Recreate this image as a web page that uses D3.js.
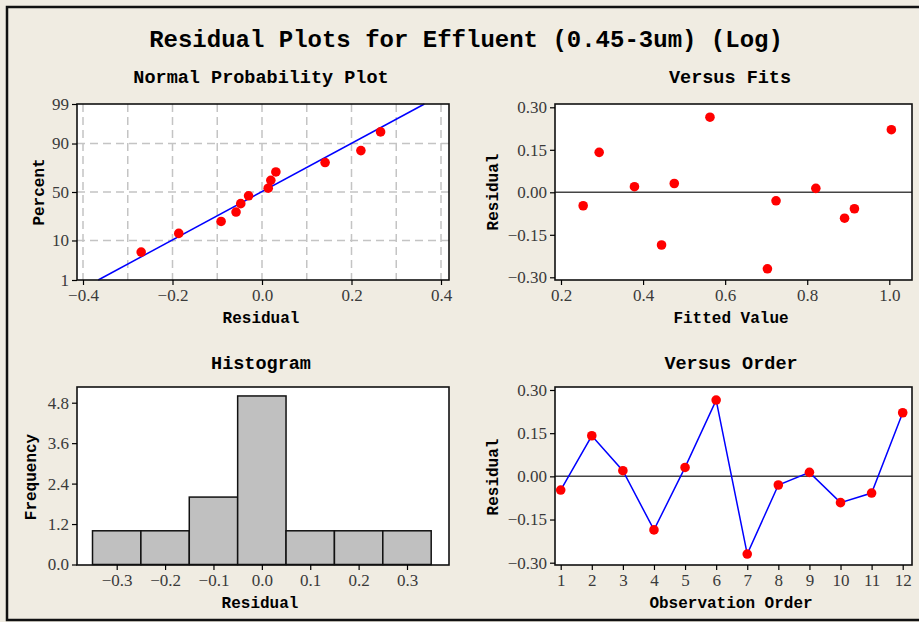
<!DOCTYPE html>
<html>
<head>
<meta charset="utf-8">
<script src="https://cdn.jsdelivr.net/npm/d3@7"></script>
<style>
  body { margin: 0; background: #f0ece2; }
  svg { display: block; }
  .lbl { font-family: "Liberation Mono", "DejaVu Sans Mono", monospace; font-weight: bold; fill: #000; }
  .tick text { font-family: "Liberation Serif", "DejaVu Serif", serif; font-size: 17px; fill: #3a3a3a; }
  .tick line { stroke: #000; stroke-width: 1.2; }
</style>
</head>
<body>
<svg id="chart" width="919" height="622"></svg>
<script>
// ---- data ----
const observationOrder = [1, 2, 3, 4, 5, 6, 7, 8, 9, 10, 11, 12]
const residuals = [-0.0475, 0.141, 0.0197, -0.186, 0.031, 0.265, -0.270, -0.030, 0.0139, -0.0914, -0.058, 0.221]
const fittedValues = [0.254, 0.293, 0.379, 0.445, 0.476, 0.563, 0.703, 0.724, 0.821, 0.891, 0.915, 1.005]
const sortedResiduals = [-0.270, -0.186, -0.0914, -0.058, -0.0475, -0.030, 0.0139, 0.0197, 0.031, 0.141, 0.221, 0.265]
const plotPercents = [5.6, 13.7, 21.8, 29.8, 37.9, 46.0, 54.0, 62.1, 70.2, 78.2, 86.3, 94.4]
const fitLineResidual = [-0.366, 0.363]
const fitLinePercent = [1, 99]
const histBinMids = [-0.3, -0.2, -0.1, 0.0, 0.1, 0.2, 0.3]
const histCounts = [1, 1, 2, 5, 1, 1, 1]
const histBinWidth = 0.1

// ---- tick labels ----
const nppXTicks = [-0.4, -0.2, 0.0, 0.2, 0.4]
const nppXGrid = [-0.4, -0.3, -0.2, -0.1, 0.0, 0.1, 0.2, 0.3, 0.4]
const nppYTicks = [1, 10, 50, 90, 99]
const residTicks = [-0.30, -0.15, 0.00, 0.15, 0.30]
const fitsXTicks = [0.2, 0.4, 0.6, 0.8, 1.0]
const histYTicks = [0.0, 1.2, 2.4, 3.6, 4.8]

// inverse normal cdf (Acklam) - probability axis transform
function probit(p) {
  const a = [-39.6968302866538, 220.946098424521, -275.928510446969, 138.357751867269, -30.6647980661472, 2.50662827745924]
  const b = [-54.4760987982241, 161.585836858041, -155.698979859887, 66.8013118877197, -13.2806815528857]
  const c = [-0.00778489400243029, -0.322396458041136, -2.40075827716184, -2.54973253934373, 4.37466414146497, 2.93816398269878]
  const d = [0.00778469570904146, 0.32246712907004, 2.445134137143, 3.75440866190742]
  const pl = 0.02425
  let q, r
  if (p < pl) {
    q = Math.sqrt(-2 * Math.log(p))
    return (((((c[0]*q+c[1])*q+c[2])*q+c[3])*q+c[4])*q+c[5]) / ((((d[0]*q+d[1])*q+d[2])*q+d[3])*q+1)
  } else if (p <= 1 - pl) {
    q = p - 0.5; r = q * q
    return (((((a[0]*r+a[1])*r+a[2])*r+a[3])*r+a[4])*r+a[5])*q / (((((b[0]*r+b[1])*r+b[2])*r+b[3])*r+b[4])*r+1)
  }
  q = Math.sqrt(-2 * Math.log(1 - p))
  return -(((((c[0]*q+c[1])*q+c[2])*q+c[3])*q+c[4])*q+c[5]) / ((((d[0]*q+d[1])*q+d[2])*q+d[3])*q+1)
}

const svg = d3.select('#chart')

svg.append('rect')
  .attr('x', 0).attr('y', 0).attr('width', 919).attr('height', 622)
  .attr('fill', '#f0ece2')
svg.append('rect')
  .attr('x', 7).attr('y', 7).attr('width', 940).attr('height', 613)
  .attr('fill', 'none').attr('stroke', '#111').attr('stroke-width', 2.5)

svg.append('text').attr('class', 'lbl')
  .attr('x', 466).attr('y', 47)
  .attr('text-anchor', 'middle').style('font-size', '24px')
  .text('Residual Plots for Effluent (0.45-3um) (Log)')

// panel boxes
const panels = {
  npp:   { x: 77,  y: 104, w: 372, h: 176 },
  fits:  { x: 555, y: 104, w: 357, h: 176 },
  hist:  { x: 77,  y: 387, w: 372, h: 178 },
  order: { x: 555, y: 387, w: 357, h: 178 }
}

function panelBack(p) {
  svg.append('rect')
    .attr('x', p.x).attr('y', p.y).attr('width', p.w).attr('height', p.h)
    .attr('fill', '#fff')
}
function panelFrame(p) {
  svg.append('rect')
    .attr('x', p.x).attr('y', p.y).attr('width', p.w).attr('height', p.h)
    .attr('fill', 'none').attr('stroke', '#111').attr('stroke-width', 1.6)
}
function subTitle(text, cx, y) {
  svg.append('text').attr('class', 'lbl')
    .attr('x', cx).attr('y', y).attr('text-anchor', 'middle')
    .style('font-size', '18.5px').text(text)
}
function xLabel(text, cx, y) {
  svg.append('text').attr('class', 'lbl')
    .attr('x', cx).attr('y', y).attr('text-anchor', 'middle')
    .style('font-size', '16px').text(text)
}
function yLabel(text, cx, cy) {
  svg.append('text').attr('class', 'lbl')
    .attr('transform', 'translate(' + cx + ',' + cy + ') rotate(-90)')
    .attr('text-anchor', 'middle').attr('dy', '0.35em')
    .style('font-size', '16px').text(text)
}
function drawAxes(p, xAxis, yAxis) {
  svg.append('g').attr('transform', 'translate(0,' + (p.y + p.h) + ')')
    .call(xAxis.tickSize(5).tickPadding(4))
    .call(g => g.select('.domain').remove())
  svg.append('g').attr('transform', 'translate(' + p.x + ',0)')
    .call(yAxis.tickSize(5).tickPadding(3))
    .call(g => g.select('.domain').remove())
}

////////////////// Normal Probability Plot
{
  const p = panels.npp
  const x = d3.scaleLinear().domain([-0.4, 0.4]).range([83, 441])
  const z = d3.scaleLinear().domain([probit(0.01), probit(0.99)]).range([p.y + p.h, p.y])
  const y = v => z(probit(v / 100))

  panelBack(p)
  svg.append('g').selectAll('line').data(nppXGrid).join('line')
    .attr('x1', d => x(d)).attr('x2', d => x(d))
    .attr('y1', p.y).attr('y2', p.y + p.h)
    .attr('stroke', '#c4c4c4').attr('stroke-width', 1.5).attr('stroke-dasharray', '8,5')
  svg.append('g').selectAll('line').data(nppYTicks.slice(1, -1)).join('line')
    .attr('x1', p.x).attr('x2', p.x + p.w)
    .attr('y1', d => y(d)).attr('y2', d => y(d))
    .attr('stroke', '#c4c4c4').attr('stroke-width', 1.5).attr('stroke-dasharray', '8,5')

  const fitPts = fitLineResidual.map((r, i) => [x(r), y(fitLinePercent[i])])
  svg.append('path').attr('d', d3.line()(fitPts))
    .attr('fill', 'none').attr('stroke', '#0000ff').attr('stroke-width', 1.5)

  svg.append('g').selectAll('circle').data(sortedResiduals).join('circle')
    .attr('cx', d => x(d)).attr('cy', (d, i) => y(plotPercents[i]))
    .attr('r', 4.8).attr('fill', '#ff0000')

  panelFrame(p)
  const yAxisScale = d3.scaleLinear().domain(z.domain()).range(z.range())
  drawAxes(p,
    d3.axisBottom(x).tickValues(nppXTicks).tickFormat(d3.format('.1f')),
    d3.axisLeft(yAxisScale).tickValues(nppYTicks.map(v => probit(v / 100)))
      .tickFormat((d, i) => nppYTicks[i]))
  subTitle('Normal Probability Plot', 261, 83)
  xLabel('Residual', 261, 323)
  yLabel('Percent', 38, 192)
}

////////////////// Versus Fits
{
  const p = panels.fits
  const x = d3.scaleLinear().domain([0.2, 1.0]).range([561, 889.3])
  const y = d3.scaleLinear().domain([-0.3, 0.3]).range([277.3, 107.3])

  panelBack(p)
  svg.append('line')
    .attr('x1', p.x).attr('x2', p.x + p.w).attr('y1', y(0)).attr('y2', y(0))
    .attr('stroke', '#444').attr('stroke-width', 1.5)
  svg.append('g').selectAll('circle').data(residuals).join('circle')
    .attr('cx', (d, i) => x(fittedValues[i])).attr('cy', d => y(d))
    .attr('r', 4.8).attr('fill', '#ff0000')
  panelFrame(p)
  drawAxes(p,
    d3.axisBottom(x).tickValues(fitsXTicks).tickFormat(d3.format('.1f')),
    d3.axisLeft(y).tickValues(residTicks).tickFormat(d3.format('.2f')))
  subTitle('Versus Fits', 730, 83)
  xLabel('Fitted Value', 731, 323)
  yLabel('Residual', 492, 192)
}

////////////////// Histogram
{
  const p = panels.hist
  const x = d3.scaleLinear().domain([-0.3, 0.3]).range([116.7, 407])
  const y = d3.scaleLinear().domain([0, 4.8]).range([564.5, 402.7])

  panelBack(p)
  svg.append('g').selectAll('rect').data(histCounts).join('rect')
    .attr('x', (d, i) => x(histBinMids[i] - histBinWidth / 2))
    .attr('width', (d, i) => x(histBinMids[i] + histBinWidth / 2) - x(histBinMids[i] - histBinWidth / 2))
    .attr('y', d => y(d)).attr('height', d => y(0) - y(d))
    .attr('fill', '#c0c0c0').attr('stroke', '#111').attr('stroke-width', 1.5)
  panelFrame(p)
  drawAxes(p,
    d3.axisBottom(x).tickValues(histBinMids).tickFormat(d3.format('.1f')),
    d3.axisLeft(y).tickValues(histYTicks).tickFormat(d3.format('.1f')))
  subTitle('Histogram', 261, 369)
  xLabel('Residual', 260, 608)
  yLabel('Frequency', 30, 477)
}

////////////////// Versus Order
{
  const p = panels.order
  const x = d3.scaleLinear().domain([1, 12]).range([560.7, 902.7])
  const y = d3.scaleLinear().domain([-0.3, 0.3]).range([562.7, 390])

  panelBack(p)
  svg.append('line')
    .attr('x1', p.x).attr('x2', p.x + p.w).attr('y1', y(0)).attr('y2', y(0))
    .attr('stroke', '#444').attr('stroke-width', 1.5)
  svg.append('path')
    .attr('d', d3.line().x((d, i) => x(observationOrder[i])).y(d => y(d))(residuals))
    .attr('fill', 'none').attr('stroke', '#0000ff').attr('stroke-width', 1.5)
  svg.append('g').selectAll('circle').data(residuals).join('circle')
    .attr('cx', (d, i) => x(observationOrder[i])).attr('cy', d => y(d))
    .attr('r', 4.8).attr('fill', '#ff0000')
  panelFrame(p)
  drawAxes(p,
    d3.axisBottom(x).tickValues(observationOrder).tickFormat(d3.format('d')),
    d3.axisLeft(y).tickValues(residTicks).tickFormat(d3.format('.2f')))
  subTitle('Versus Order', 731, 369)
  xLabel('Observation Order', 731, 608)
  yLabel('Residual', 492, 477)
}
</script>
</body>
</html>
